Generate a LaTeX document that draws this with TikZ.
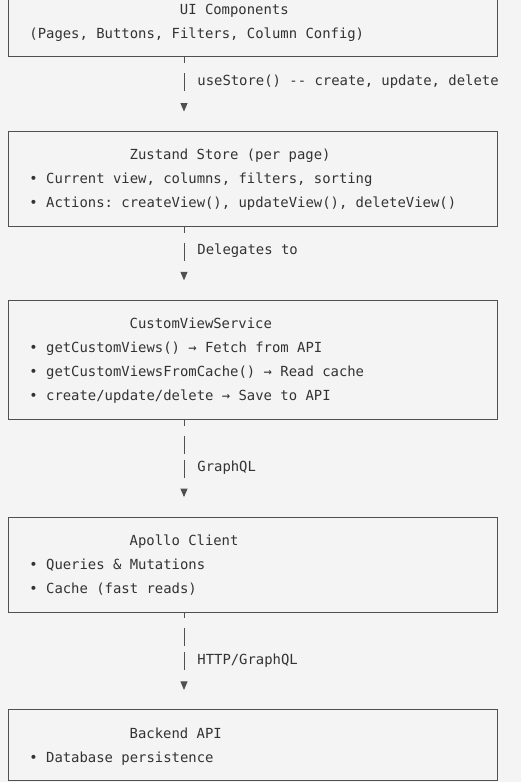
\documentclass[tikz,border=0pt]{standalone}
\usepackage{fontspec}
\usepackage{xcolor}
\usepackage{tikz}
\usetikzlibrary{arrows.meta, positioning}

\newfontfamily\codefont{DejaVu Sans Mono}
\definecolor{pagebg}{HTML}{F4F4F4}
\definecolor{inkgray}{HTML}{333333}
\definecolor{rulegray}{HTML}{505050}
\newcommand\rowstrut{\rule[-7pt]{0pt}{24pt}}
\newcommand\codesize{\codefont\fontsize{13.9pt}{24pt}\selectfont\frenchspacing}

\begin{document}
\begin{tikzpicture}[
    x=1pt, y=1pt,
    layer/.style={rectangle, draw=rulegray, line width=0.8pt,
                 minimum width=489pt, text width=447pt,
                 inner xsep=21pt, inner ysep=11.5pt,
                 align=left, text=inkgray, font=\codesize,
                 execute at begin node={\frenchspacing\spaceskip=0pt\xspaceskip=0pt}},
    link/.style={-{Triangle[width=7pt, length=8.5pt]}, draw=rulegray,
                 line width=0.8pt, shorten >=19.5pt},
    onebar/.style={dash pattern=on 6pt off 10pt on 18pt off 40pt},
    twobar/.style={dash pattern=on 6pt off 10pt on 18pt off 6pt on 18pt off 40pt},
    note/.style={right, xshift=13pt, inner sep=0pt, text=inkgray, font=\codesize}
]
\path[use as bounding box, fill=pagebg] (0,0) rectangle (521,-782);
\coordinate (spine) at (184,0);

\node[layer, anchor=south west] (ui) at (8,-57)
  {\rowstrut\hspace*{150.5pt}UI Components\\
   \rowstrut(Pages, Buttons, Filters, Column Config)};
\node[layer, below=74pt of ui] (store)
  {\rowstrut\hspace*{100.3pt}Zustand Store (per page)\\
   \rowstrut• Current view, columns, filters, sorting\\
   \rowstrut• Actions: createView(), updateView(), deleteView()};
\node[layer, below=73pt of store] (service)
  {\rowstrut\hspace*{100.3pt}CustomViewService\\
   \rowstrut• getCustomViews() → Fetch from API\\
   \rowstrut• getCustomViewsFromCache() → Read cache\\
   \rowstrut• create/update/delete → Save to API};
\node[layer, below=97pt of service] (apollo)
  {\rowstrut\hspace*{100.3pt}Apollo Client\\
   \rowstrut• Queries \& Mutations\\
   \rowstrut• Cache (fast reads)};
\node[layer, below=97pt of apollo] (backend)
  {\rowstrut\hspace*{100.3pt}Backend API\\
   \rowstrut• Database persistence};

\draw[link, onebar] (ui.south -| spine) -- node[note, pos=0.338] {useStore() -{}- create, update, delete} (store.north -| spine);
\draw[link, onebar] (store.south -| spine) -- node[note, pos=0.33] {Delegates to} (service.north -| spine);
\draw[link, twobar] (service.south -| spine) -- node[note, pos=0.495] {GraphQL} (apollo.north -| spine);
\draw[link, twobar] (apollo.south -| spine) -- node[note, pos=0.495] {HTTP/GraphQL} (backend.north -| spine);
\end{tikzpicture}
\end{document}
